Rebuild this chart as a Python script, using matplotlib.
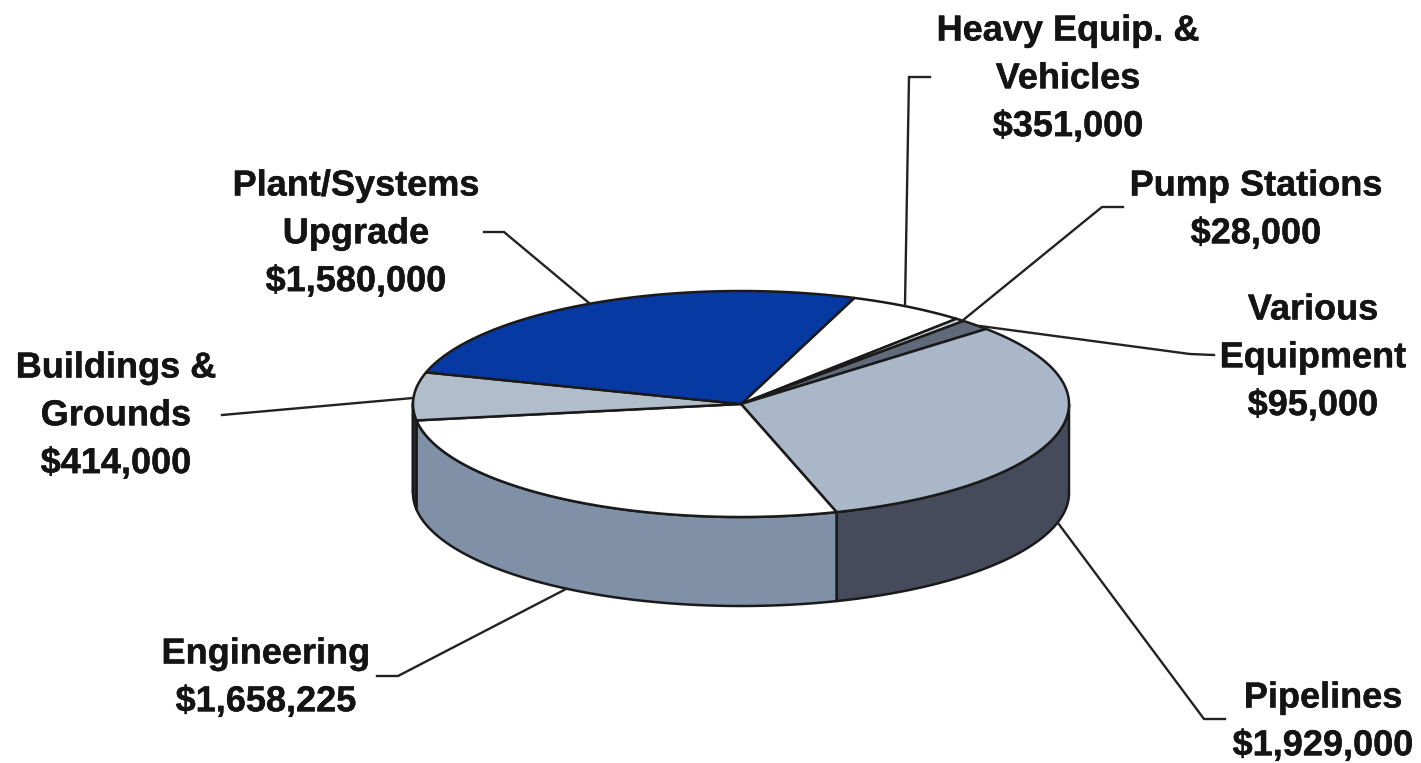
# -*- coding: utf-8 -*-
"""
Capital budget by category, drawn as a tilted 3d pie from flat polygons.
"""
import matplotlib
matplotlib.use('Agg')
import matplotlib.pyplot as plt
import matplotlib.patheffects as pe
from matplotlib.patches import Polygon
import numpy as np

categories = ['Heavy Equip. &\nVehicles', 'Pump Stations', 'Various\nEquipment', 'Pipelines',
              'Engineering', 'Buildings &\nGrounds', 'Plant/Systems\nUpgrade']
values = [351000, 28000, 95000, 1929000, 1658225, 414000, 1580000]
top_colors = ['#ffffff', '#d5d9df', '#616a7a', '#a9b7c9', '#ffffff', '#b1bdcb', '#0739a3']
side_colors = ['#ffffff', '#3c4250', '#3c4250', '#464b5b', '#8090a7', '#30343c', '#0739a3']

# label centre x, y of the first line, then the leader polyline
label_x = [1068, 1256, 1313, 1323, 266, 116, 356]
label_y = [27, 182, 306, 694, 650, 364, 182]
leaders = [
    [(930, 77), (909, 77), (905, 305)],
    [(1123, 207), (1102, 207), (962, 321)],
    [(1214, 355), (1190, 354), (980, 326)],
    [(1225, 719), (1204, 719), (1058, 523)],
    [(377, 676), (398, 676), (566, 589)],
    [(222, 415), (413, 398)],
    [(484, 232), (504, 232), (589, 303)],
]

CX, CY = 741, 404
RX, RY = 328, 113
DEPTH = 89
START_ANGLE = 20.2
LINE_PX = 47.8


def rim(a0, a1, drop=0):
    """
    Points on the ellipse between two clockwise angles from the top, in degrees

    """
    t = np.radians(np.linspace(a0, a1, max(int(abs(a1 - a0)) * 2, 2)))
    return np.column_stack([CX + RX * np.sin(t), CY - RY * np.cos(t) + drop])


fig = plt.figure(figsize=(14.21, 7.63), dpi=100)
ax = fig.add_axes([0, 0, 1, 1])
ax.set_xlim(0, 1421)
ax.set_ylim(763, 0)
ax.axis('off')

# slice boundaries follow from the values
spans = np.array(values) / sum(values) * 360
ends = START_ANGLE + np.cumsum(spans)
starts = ends - spans

# outer wall, only the part facing the viewer (90 to 270 degrees)
for a0, a1, color in zip(starts, ends, side_colors):
    lo, hi = max(a0, 90), min(a1, 270)
    if a0 >= 270 or lo >= hi:
        continue
    pts = np.vstack([rim(lo, hi), rim(lo, hi, DEPTH)[::-1]])
    ax.add_patch(Polygon(pts, closed=True, fc=color, ec='#1a1a1a', lw=1.8, joinstyle='round'))

# the short stretch of wall left of the engineering slice
pts = np.vstack([rim(270, ends[4] + 10), rim(270, ends[4] + 10, DEPTH)[::-1]])
ax.add_patch(Polygon(pts, closed=True, fc=side_colors[5], ec='#1a1a1a', lw=1.8, zorder=0.5))

# top face
for a0, a1, color in zip(starts, ends, top_colors):
    pts = np.vstack([[CX, CY], rim(a0, a1)])
    ax.add_patch(Polygon(pts, closed=True, fc=color, ec='#1a1a1a', lw=1.8, joinstyle='round'))

for pts in leaders:
    xs, ys = zip(*pts)
    ax.plot(xs, ys, color='#222222', lw=1.7, solid_joinstyle='miter')

for name, value, x, y in zip(categories, values, label_x, label_y):
    lines = name.split('\n') + ['${:,}'.format(value)]
    for i, line in enumerate(lines):
        ax.text(x, y + i * LINE_PX, line, ha='center', va='center_baseline',
                family='Liberation Sans', weight='bold', fontsize=26, color='#141414',
                path_effects=[pe.withStroke(linewidth=0.3, foreground='#141414')])

fig.savefig('out.png', dpi=100)
